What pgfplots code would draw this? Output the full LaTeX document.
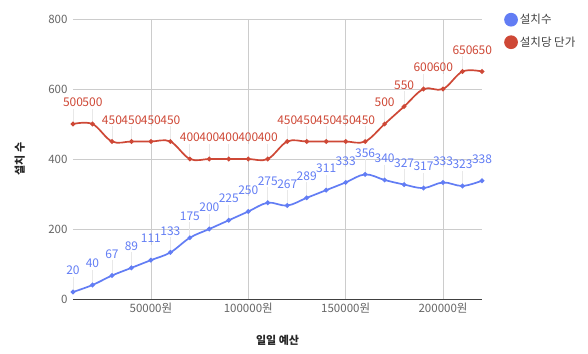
\documentclass[border=0pt]{standalone}
\usepackage{fontspec}
\setmainfont{Noto Sans CJK KR}
\usepackage{pgfplots}
\usepackage{pgfplotstable}
\pgfplotsset{compat=1.18}
\definecolor{cblue}{RGB}{98,125,244}
\definecolor{cred}{RGB}{206,72,54}
\definecolor{tickc}{RGB}{102,102,102}
\definecolor{gridc}{RGB}{204,204,204}
\definecolor{stemc}{RGB}{232,232,232}
\pgfplotstableread{
x inst cost
10000 20 500
20000 40 500
30000 67 450
40000 89 450
50000 111 450
60000 133 450
70000 175 400
80000 200 400
90000 225 400
100000 250 400
110000 275 400
120000 267 450
130000 289 450
140000 311 450
150000 333 450
160000 356 450
170000 340 500
180000 327 550
190000 317 600
200000 333 600
210000 323 650
220000 338 650
}\data
\begin{document}
\begin{tikzpicture}
\begin{axis}[
  at={(0,0)}, anchor=south west,
  scale only axis, width=409pt, height=280pt,
  xmin=10000, xmax=220000, ymin=0, ymax=800,
  xtick={50000,100000,150000,200000},
  xticklabels={50000원,100000원,150000원,200000원},
  ytick={0,200,400,600,800},
  scaled x ticks=false,
  /pgf/number format/assume math mode=true,
  ticklabel style={font=\fontsize{11.5}{13}\selectfont, text=tickc},
  yticklabel style={xshift=-2pt},
  xmajorgrids, ymajorgrids, grid style={gridc, line width=0.7pt},
  axis x line*=bottom, axis y line*=left,
  x axis line style={-, draw=black!75, line width=0.9pt},
  y axis line style={draw=none},
  major tick length=0pt,
  xlabel={\bfseries 일일 예산},
  ylabel={\bfseries 설치 수},
  x label style={at={(axis description cs:0.5,-0.146)}, anchor=center, font=\fontsize{11}{13}\selectfont, text=black!85},
  y label style={at={(axis description cs:-0.13,0.5)}, anchor=center, font=\fontsize{11}{13}\selectfont, text=black!85},
  legend style={at={(1,1)}, anchor=north west, xshift=19pt, yshift=9pt, draw=none, fill=none,
    font=\fontsize{11.5}{13}\selectfont, text=black!75, row sep=7.5pt},
  legend cell align=left,
  legend image code/.code={\fill[#1] (0pt,0pt) circle (6pt);},
  nodes near coords style={font=\fontsize{12}{14}\selectfont, anchor=south, yshift=13pt},
]
\addplot[draw=none, forget plot, mark=none, error bars/.cd, y dir=plus, y fixed=44,
  error mark=none, error bar style={stemc, line width=0.8pt}] table[x=x, y=inst] {\data};
\addplot[draw=none, forget plot, mark=none, error bars/.cd, y dir=plus, y fixed=44,
  error mark=none, error bar style={stemc, line width=0.8pt}] table[x=x, y=cost] {\data};
\addplot[cblue, line width=1.7pt, smooth, tension=0.6, mark=*, mark size=1.4pt,
  nodes near coords, nodes near coords style={text=cblue}] table[x=x, y=inst] {\data};
\addlegendentry{설치수}
\addplot[cred, line width=1.7pt, smooth, tension=0.6, mark=*, mark size=1.4pt,
  nodes near coords, nodes near coords style={text=cred}] table[x=x, y=cost] {\data};
\addlegendentry{설치당 단가}
\end{axis}
\pgfresetboundingbox
\path (-73pt,-54pt) rectangle (515pt,299pt);
\end{tikzpicture}
\end{document}
